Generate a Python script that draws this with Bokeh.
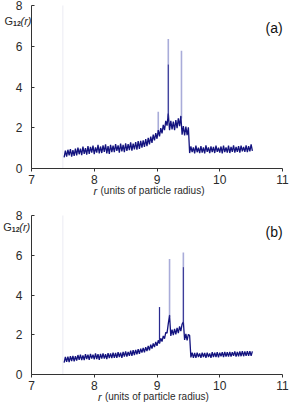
from bokeh.plotting import figure
from bokeh.layouts import column
from bokeh.models import Range1d, Label, LinearAxis, FixedTicker
from bokeh.embed import file_html
from bokeh.resources import INLINE

# r grid (units of particle radius)
R = [7.52, 7.54, 7.56, 7.58, 7.60, 7.62, 7.64, 7.66, 7.68, 7.70,
     7.72, 7.74, 7.76, 7.78, 7.80, 7.82, 7.84, 7.86, 7.88, 7.90,
     7.92, 7.94, 7.96, 7.98, 8.00, 8.02, 8.04, 8.06, 8.08, 8.10,
     8.12, 8.14, 8.16, 8.18, 8.20, 8.22, 8.24, 8.26, 8.28, 8.30,
     8.32, 8.34, 8.36, 8.38, 8.40, 8.42, 8.44, 8.46, 8.48, 8.50,
     8.52, 8.54, 8.56, 8.58, 8.60, 8.62, 8.64, 8.66, 8.68, 8.70,
     8.72, 8.74, 8.76, 8.78, 8.80, 8.82, 8.84, 8.86, 8.88, 8.90,
     8.92, 8.94, 8.96, 8.98, 9.00, 9.02, 9.04, 9.06, 9.08, 9.10,
     9.12, 9.14, 9.16, 9.18, 9.20, 9.22, 9.24, 9.26, 9.28, 9.30,
     9.32, 9.34, 9.36, 9.38, 9.40, 9.42, 9.44, 9.46, 9.48, 9.50,
     9.52, 9.54, 9.56, 9.58, 9.60, 9.62, 9.64, 9.66, 9.68, 9.70,
     9.72, 9.74, 9.76, 9.78, 9.80, 9.82, 9.84, 9.86, 9.88, 9.90,
     9.92, 9.94, 9.96, 9.98, 10.00, 10.02, 10.04, 10.06, 10.08, 10.10,
     10.12, 10.14, 10.16, 10.18, 10.20, 10.22, 10.24, 10.26, 10.28, 10.30,
     10.32, 10.34, 10.36, 10.38, 10.40, 10.42, 10.44, 10.46, 10.48, 10.50, 10.52]

G_A = [0.55, 0.88, 0.58, 0.92, 0.64, 0.95, 0.58, 0.90, 0.62, 0.98,
       0.64, 1.02, 0.70, 0.98, 0.66, 1.08, 0.72, 1.00, 0.68, 1.10,
       0.72, 1.06, 0.78, 1.12, 0.70, 1.04, 0.78, 1.16, 0.74, 1.08,
       0.76, 1.14, 0.82, 1.18, 0.74, 1.10, 0.72, 1.16, 0.80, 1.12,
       0.80, 1.20, 0.86, 1.14, 0.78, 1.22, 0.84, 1.16, 0.80, 1.24,
       0.86, 1.20, 0.90, 1.28, 0.88, 1.22, 0.94, 1.30, 0.92, 1.34,
       0.96, 1.36, 1.02, 1.38, 1.06, 1.44, 1.10, 1.50, 1.18, 1.56,
       1.26, 1.66, 1.38, 1.74, 1.46, 1.88, 1.58, 1.98, 1.72, 2.14,
       1.88, 2.34, 2.10, 2.70, 1.88, 2.34, 1.92, 2.30, 1.88, 2.38,
       1.98, 2.46, 2.08, 2.58, 1.66, 2.08, 1.62, 2.06, 1.64, 2.02,
       0.76, 1.08, 0.80, 1.04, 0.74, 1.12, 0.80, 1.02, 0.76, 1.10,
       0.78, 1.04, 0.74, 1.14, 0.82, 1.04, 0.76, 1.08, 0.80, 1.06,
       0.76, 1.12, 0.82, 1.02, 0.78, 1.08, 0.74, 1.12, 0.80, 1.04,
       0.78, 1.12, 0.76, 1.06, 0.82, 1.14, 0.78, 1.06, 0.82, 1.10,
       0.78, 1.12, 0.84, 1.06, 0.82, 1.14, 0.80, 1.10, 0.84, 1.18, 0.86]

G_B = [0.60, 0.88, 0.64, 0.90, 0.62, 0.92, 0.68, 0.94, 0.66, 0.92,
       0.70, 0.98, 0.74, 1.00, 0.72, 0.96, 0.72, 1.02, 0.78, 1.00,
       0.74, 1.04, 0.80, 1.00, 0.76, 1.06, 0.78, 1.02, 0.74, 1.04,
       0.80, 1.06, 0.80, 1.02, 0.78, 1.08, 0.82, 1.06, 0.82, 1.10,
       0.84, 1.08, 0.84, 1.12, 0.88, 1.10, 0.84, 1.14, 0.90, 1.16,
       0.90, 1.14, 0.94, 1.20, 0.94, 1.22, 0.98, 1.24, 1.02, 1.28,
       1.04, 1.30, 1.10, 1.34, 1.12, 1.38, 1.18, 1.44, 1.22, 1.50,
       1.30, 1.56, 1.38, 1.64, 1.44, 1.72, 1.56, 1.82, 1.66, 1.94,
       1.80, 2.12, 2.08, 2.56, 2.98, 1.94, 2.26, 1.98, 2.30, 2.02,
       2.34, 2.08, 2.42, 2.18, 2.54, 2.64, 1.74, 2.04, 1.72, 2.02,
       1.96, 0.86, 1.10, 0.84, 1.08, 0.84, 1.10, 0.88, 1.06, 0.84,
       1.10, 0.88, 1.08, 0.84, 1.10, 0.88, 1.06, 0.84, 1.12, 0.88,
       1.10, 0.88, 1.12, 0.86, 1.10, 0.92, 1.12, 0.88, 1.14, 0.90,
       1.12, 0.90, 1.14, 0.90, 1.12, 0.94, 1.16, 0.90, 1.14, 0.92,
       1.16, 0.92, 1.18, 0.92, 1.16, 0.94, 1.18, 0.94, 1.18, 0.94, 1.16]

# spikes: position, base, faint top, dark top
SPK_R_A = [9.02, 9.18, 9.39]
SPK_BASE_A = [1.80, 2.50, 2.45]
SPK_TOP_A = [2.78, 6.35, 5.78]
SPK_DARK_A = [1.80, 5.10, 2.45]

SPK_R_B = [9.04, 9.20, 9.42]
SPK_BASE_B = [1.60, 2.90, 2.55]
SPK_TOP_B = [3.39, 5.81, 6.14]
SPK_DARK_B = [3.39, 3.00, 5.40]

X_TICKS = [7, 8, 9, 10, 11]
Y_TICKS = [0, 2, 4, 6, 8]

LINE = "#13137f"
FAINT = "#a9acd9"
TXT = "#2a2a2a"
FONT = "Liberation Sans"
W = 289


def span(v0, v1, p0, p1, total):
    s = (v1 - v0) / (p1 - p0)
    start = v0 - p0 * s
    return Range1d(start, start + total * s)


def panel(g, sr, sb, st, sd, h, px_top, px_zero, lab, tag, xl):
    # px_top / px_zero: pixel rows (from figure top) of y=8 and y=0
    p = figure(width=W, height=h,
               x_range=span(7, 11, 31, 282, W),
               y_range=span(0, 8, h - px_zero, h - px_top, h),
               x_axis_type=None, y_axis_type=None,
               output_backend="svg", toolbar_location=None, min_border=0)
    p.grid.visible = False
    p.outline_line_color = None

    xa = LinearAxis(fixed_location=0, bounds=(7, 11),
                    ticker=FixedTicker(ticks=X_TICKS, num_minor_ticks=5))
    xa.major_tick_in = 0
    xa.major_tick_out = 3
    xa.minor_tick_in = 0
    xa.minor_tick_out = 3
    xa.major_label_standoff = 3
    ya = LinearAxis(fixed_location=7, bounds=(0, 8),
                    ticker=FixedTicker(ticks=Y_TICKS, num_minor_ticks=4))
    ya.major_tick_in = 3
    ya.major_tick_out = 0
    ya.minor_tick_in = 3
    ya.minor_tick_out = 0
    ya.major_label_standoff = 9
    for ax in (xa, ya):
        ax.axis_line_color = "#333333"
        ax.major_tick_line_color = "#333333"
        ax.minor_tick_line_color = "#333333"
        ax.major_label_text_font = FONT
        ax.major_label_text_font_size = "12px"
        ax.major_label_text_color = TXT
    p.add_layout(xa, "below")
    p.add_layout(ya, "left")

    # faint vertical line at start of data
    p.segment(x0=[R[0] - 0.02], y0=[0], x1=[R[0] - 0.02], y1=[8],
              line_color="#ebebf3", line_width=1)

    p.segment(x0=sr, y0=sb, x1=sr, y1=st, line_color=FAINT, line_width=1.6)
    p.line(R, g, line_color=LINE, line_width=1.3)
    p.segment(x0=sr, y0=sb, x1=sr, y1=sd, line_color="#2a2a8e", line_width=1)

    gx, gy, tagy = lab
    p.add_layout(Label(x=gx, y=gy, text="G", text_font=FONT, text_font_size="11px",
                       text_color=TXT, text_baseline="middle"))
    p.add_layout(Label(x=gx + 0.135, y=gy - 0.12, text="12", text_font=FONT,
                       text_font_size="7px", text_font_style="bold",
                       text_color=TXT, text_baseline="middle"))
    p.add_layout(Label(x=gx + 0.255, y=gy, text="(r)", text_font=FONT,
                       text_font_size="11px", text_font_style="italic",
                       text_color=TXT, text_baseline="middle"))
    p.add_layout(Label(x=10.73, y=tagy, text=tag, text_font=FONT,
                       text_font_size="14px", text_color="#111111",
                       text_baseline="middle"))
    xr, xy = xl
    p.add_layout(Label(x=xr, y=xy, text="r", text_font=FONT, text_font_size="11px",
                       text_font_style="italic", text_color=TXT, text_baseline="middle"))
    p.add_layout(Label(x=xr + 0.11, y=xy, text="(units of particle radius)",
                       text_font=FONT, text_font_size="10px", text_color=TXT,
                       text_baseline="middle"))
    return p


p1 = panel(G_A, SPK_R_A, SPK_BASE_A, SPK_TOP_A, SPK_DARK_A, 207, 5, 168,
           (6.57, 7.26, 6.92), "(a)", (7.99, -1.08))
p2 = panel(G_B, SPK_R_B, SPK_BASE_B, SPK_TOP_B, SPK_DARK_B, 195, 8, 167,
           (6.55, 7.4, 7.19), "(b)", (8.06, -1.11))

layout = column(p1, p2, spacing=0)
open("out.html", "w").write(file_html(layout, INLINE))
